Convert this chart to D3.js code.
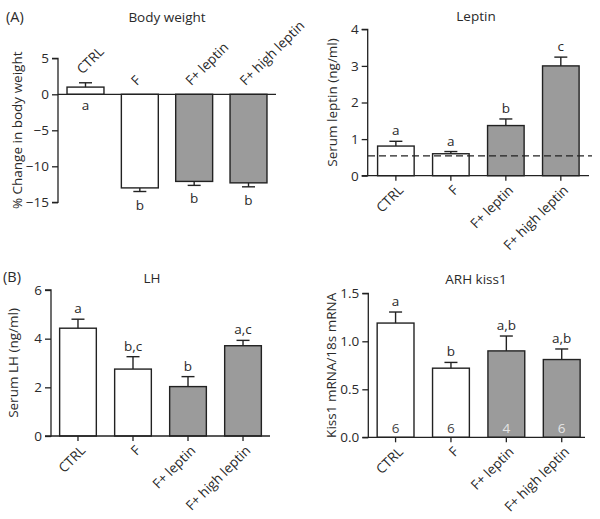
<!DOCTYPE html>
<html><head><meta charset="utf-8">
<script src="https://cdn.jsdelivr.net/npm/d3@7"></script>
<style>
body{margin:0;background:#fff;}
svg text{font-family:"Open Sans",sans-serif;fill:#2a2a2a;}
</style></head>
<body>
<svg id="chart" width="600" height="519"></svg>
<script>
// ---- data ----
const categories = ["CTRL", "F", "F+ leptin", "F+ high leptin"];
const barFill = ["#ffffff", "#ffffff", "#9b9b9b", "#9b9b9b"];

const bodyWeightMean = [1.0, -13.0, -12.1, -12.3];
const bodyWeightErr  = [0.6, 0.5, 0.55, 0.55];
const bodyWeightLetters = ["a", "b", "b", "b"];
const bodyWeightTicks = [-15, -10, -5, 0, 5];

const leptinMean = [0.81, 0.60, 1.37, 3.0];
const leptinErr  = [0.13, 0.06, 0.18, 0.24];
const leptinLetters = ["a", "a", "b", "c"];
const leptinTicks = [0, 1, 2, 3, 4];
const leptinDetectionLimit = 0.54;

const lhMean = [4.43, 2.75, 2.03, 3.71];
const lhErr  = [0.37, 0.51, 0.41, 0.22];
const lhLetters = ["a", "b,c", "b", "a,c"];
const lhTicks = [0, 2, 4, 6];

const kissMean = [1.19, 0.72, 0.90, 0.81];
const kissErr  = [0.115, 0.06, 0.155, 0.11];
const kissLetters = ["a", "b", "a,b", "a,b"];
const kissN = ["6", "6", "4", "6"];
const kissTicks = [0, 0.5, 1.0, 1.5];

// ---- drawing ----
const svg = d3.select("#chart");
const FS = 13.5;

function panel(cfg) {
  const g = svg.append("g");
  const y = d3.scaleLinear().domain(cfg.domain).range([cfg.yBottom, cfg.yTop]);
  const x = d3.scaleBand().domain(categories).range([cfg.x0, cfg.x1])
    .paddingInner(cfg.pi).paddingOuter(cfg.po);
  const bw = x.bandwidth();

  // y axis
  const yAxis = d3.axisLeft(y).tickValues(cfg.ticks).tickSize(6).tickPadding(3)
    .tickFormat(cfg.fmt);
  const ya = g.append("g").attr("transform", `translate(${cfg.x0},0)`).call(yAxis);
  ya.select(".domain").attr("stroke", "#222").attr("stroke-width", 1.3).attr("d",
    `M-6,${y(cfg.domain[1])}H0V${y(cfg.domain[0])}H-6`);
  ya.selectAll(".tick line").attr("stroke", "#222").attr("stroke-width", 1.3);
  ya.selectAll(".tick text").style("font-size", FS + "px").attr("fill", "#2a2a2a")
    .style("font-family", '"Open Sans",sans-serif');

  const zeroY = y(0);
  // bars
  categories.forEach((c, i) => {
    const v = cfg.mean[i];
    g.append("rect")
      .attr("x", x(c)).attr("width", bw)
      .attr("y", Math.min(y(v), zeroY))
      .attr("height", Math.abs(y(v) - zeroY))
      .attr("fill", barFill[i]).attr("stroke", "#222").attr("stroke-width", 1.4);
    const cx = x(c) + bw / 2;
    const ev = v >= 0 ? v + cfg.err[i] : v - cfg.err[i];
    g.append("line").attr("x1", cx).attr("x2", cx).attr("y1", y(v)).attr("y2", y(ev))
      .attr("stroke", "#222").attr("stroke-width", 1.4);
    g.append("line").attr("x1", cx - 6.5).attr("x2", cx + 6.5).attr("y1", y(ev)).attr("y2", y(ev))
      .attr("stroke", "#222").attr("stroke-width", 1.4);
    // letters
    let ly;
    if (v >= 0 && !cfg.lettersBelow) ly = y(ev) - 6;
    else if (v >= 0) ly = zeroY + 16;
    else ly = y(ev) + 18;
    g.append("text").attr("x", cx).attr("y", ly).attr("text-anchor", "middle")
      .style("font-size", FS + "px").text(cfg.letters[i]);
    if (cfg.n) {
      g.append("text").attr("x", cx).attr("y", zeroY - 4).attr("text-anchor", "middle")
        .style("font-size", FS + "px")
        .style("fill", i >= 2 ? "#e6e6e6" : "#444").text(cfg.n[i]);
    }
  });

  // x axis line
  g.append("line").attr("x1", cfg.x0).attr("x2", cfg.xEnd).attr("y1", zeroY).attr("y2", zeroY)
    .attr("stroke", "#222").attr("stroke-width", 1.3);

  // category labels
  categories.forEach((c, i) => {
    const cx = x(c) + bw / 2;
    if (cfg.labelsTop) {
      const v = cfg.mean[i];
      const top = v >= 0 ? y(v + cfg.err[i]) : zeroY;
      g.append("text").attr("transform", `translate(${cx - 3},${top - 8}) rotate(-45)`)
        .attr("text-anchor", "start").style("font-size", FS + "px").text(c);
    } else {
      g.append("line").attr("x1", cx).attr("x2", cx).attr("y1", zeroY).attr("y2", zeroY + 5)
        .attr("stroke", "#222").attr("stroke-width", 1.3);
      g.append("text").attr("transform", `translate(${cx + 5},${zeroY + 12}) rotate(-45)`)
        .attr("text-anchor", "end").attr("dy", "0.35em").style("font-size", FS + "px").text(c);
    }
  });

  // title
  g.append("text").attr("x", cfg.titleX).attr("y", cfg.titleY).attr("text-anchor", "middle")
    .style("font-size", FS + "px").text(cfg.title);
  // y label
  g.append("text")
    .attr("transform", `translate(${cfg.ylabX},${(cfg.yTop + cfg.yBottom) / 2}) rotate(-90)`)
    .attr("text-anchor", "middle").attr("dy", "0.35em").style("font-size", FS + "px").text(cfg.ylab);
  return {x, y, g};
}

panel({
  domain: [-15, 5], yBottom: 202.3, yTop: 58.3, x0: 58, x1: 276, xEnd: 276,
  pi: 0.32, po: 0.166, ticks: bodyWeightTicks, fmt: d3.format("d"),
  mean: bodyWeightMean, err: bodyWeightErr, letters: bodyWeightLetters,
  lettersBelow: true, labelsTop: true,
  title: "Body weight", titleX: 167, titleY: 22,
  ylab: "% Change in body weight", ylabX: 17
});

const lp = panel({
  domain: [0, 4], yBottom: 175.7, yTop: 29.3, x0: 367.7, x1: 589, xEnd: 589,
  pi: 0.335, po: 0.18, ticks: leptinTicks, fmt: d3.format("d"),
  mean: leptinMean, err: leptinErr, letters: leptinLetters,
  title: "Leptin", titleX: 476, titleY: 21,
  ylab: "Serum leptin (ng/ml)", ylabX: 332
});
lp.g.append("line").attr("x1", 368).attr("x2", 592)
  .attr("y1", lp.y(leptinDetectionLimit)).attr("y2", lp.y(leptinDetectionLimit))
  .attr("stroke", "#222").attr("stroke-width", 1.3).attr("stroke-dasharray", "7,4");

panel({
  domain: [0, 6], yBottom: 436, yTop: 290, x0: 51, x1: 270, xEnd: 270,
  pi: 0.333, po: 0.157, ticks: lhTicks, fmt: d3.format("d"),
  mean: lhMean, err: lhErr, letters: lhLetters,
  title: "LH", titleX: 152, titleY: 283,
  ylab: "Serum LH (ng/ml)", ylabX: 13
});

panel({
  domain: [0, 1.5], yBottom: 437.3, yTop: 293.3, x0: 368.3, x1: 589, xEnd: 585,
  pi: 0.335, po: 0.16, ticks: kissTicks, fmt: d3.format(".1f"),
  mean: kissMean, err: kissErr, letters: kissLetters, n: kissN,
  title: "ARH kiss1", titleX: 476, titleY: 284,
  ylab: "Kiss1 mRNA/18s mRNA", ylabX: 331
});

svg.append("text").attr("x", 6).attr("y", 22).style("font-size", "14.5px").text("(A)");
svg.append("text").attr("x", 3).attr("y", 282).style("font-size", "14.5px").text("(B)");
</script>
</body></html>
